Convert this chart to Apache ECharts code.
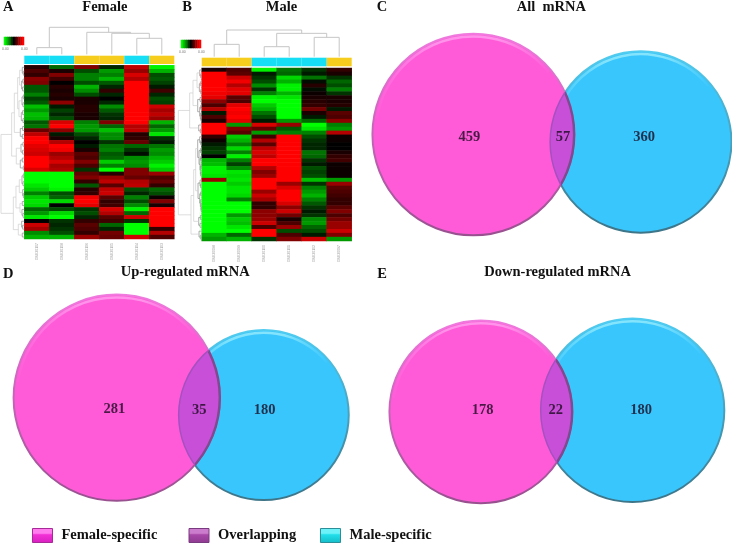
<!DOCTYPE html>
<html>
<head>
<meta charset="utf-8">
<title>mRNA heatmaps and Venn diagrams</title>
<style>
    html, body { margin: 0; padding: 0; background: #fff; }
    #chart { width: 732px; height: 543px; }
</style>
<script src="https://cdn.jsdelivr.net/npm/echarts@6/dist/echarts.min.js"></script>
</head>
<body>
<div id="chart"></div>
<script>
//---数据定义区----------------------------------
var femaleSamples = ['GSE30107', 'GSE30108', 'GSE30106', 'GSE30105', 'GSE30104', 'GSE30103'];
var maleSamples = ['GSE30098', 'GSE30099', 'GSE30100', 'GSE30101', 'GSE30102', 'GSE30097'];
var femaleGroups = ['male', 'male', 'female', 'female', 'male', 'female'];
var maleGroups = ['female', 'female', 'male', 'male', 'male', 'female'];
var keySteps = [-1, -.8, -.6, -.4, -.2, 0, .2, .4, .6, .8, 1];

// expression per row, one value per sample (-1 green .. 1 red)
var femaleRows = [
    [.15, -.4, .5, -.15, .75, -.95], [.3, .1, -.3, -.6, .6, -.7], [.2, .5, -.5, -.5, .85, -.3], [.55, .25, -.5, -.7, .7, -.35],
    [.5, 0, -.3, -.35, 1, -.25], [-.35, .15, -.7, -.15, 1, -.1], [-.35, .1, -.55, .2, 1, .25], [-.5, .15, -.3, -.15, 1, -.15],
    [-.25, .1, .1, 0, 1, -.3], [-.35, .55, .1, -.15, 1, -.25], [-.75, -.1, .15, -.55, 1, .8], [-.6, -.25, .15, -.35, 1, .65],
    [-.75, -.15, .1, -.2, 1, .75], [-.7, -.3, .1, -.15, 1, .6], [-.35, .85, -.5, .5, 1, -.7], [-.45, 1, -.6, -.4, .7, -.4],
    [.4, .55, -.6, -.75, .75, -.6], [.75, -.1, -.3, -.55, .15, -.9], [1, .1, -.15, -.55, .2, -.2], [1, .7, 0, -.2, .4, -.1],
    [.9, 1, -.1, -.45, -.4, -.45], [.85, .95, .1, -.5, -.2, -.6], [.8, .6, .35, -.35, -.05, -.55], [1, .7, .3, -.4, -.55, -.7],
    [1, .85, .5, -.8, -.6, -.8], [1, .65, .3, -.5, -.55, -.95], [.85, .7, -.2, -1, .5, -.8], [-1, -1, .4, .15, .5, .6],
    [-1, -1, .5, .6, .4, .3], [-1, -1, .2, .75, .7, .4], [-.9, -1, -.35, .35, .75, .2], [-.8, -.95, .15, .75, -.3, -.4],
    [-.5, -.3, .2, .8, -.15, -.3], [-.8, -.4, .95, .35, -.5, .05], [-.9, -.85, 1, .2, -.3, .5], [-.85, 0, .9, .25, -.55, .1],
    [-.4, -.3, -.2, .85, -.95, 1], [-.6, -.85, -.3, .7, -.4, 1], [-.9, -1, -.15, .35, .8, 1], [0, -.2, .2, .25, -.2, 1],
    [.8, -.15, .35, -.4, -1, 1], [.65, -.2, .3, -.15, -1, .2], [-.55, -.3, .2, .45, -1, .7], [-.7, -.7, .6, .4, .8, .3]
];
var maleRows = [
    [.1, .3, -.95, -.45, -.2, .2], [1, .35, -.1, -.4, -.1, .1], [1, .8, -.2, -.85, -.45, -.2], [1, .95, -.3, -.7, -.05, -.4],
    [1, .7, -.55, -.95, .15, -.3], [1, .9, -.2, -.95, -.05, -.5], [.95, .9, -.5, -.7, .05, -.2], [.9, .35, -.95, -.9, .1, .1],
    [.55, .3, -1, -1, .15, .1], [.3, .9, -.8, -1, .2, .15], [.7, 1, -.7, -1, .45, -.1], [-.1, .95, -.45, -1, .1, .35],
    [.3, 1, -.3, -1, -.1, .3], [.1, .9, -.1, -.6, -.4, .55], [1, -.6, .85, .6, -1, -.5], [1, .5, .4, -.35, -.9, -.6],
    [1, .35, -.6, -.5, -.5, .7], [.2, -.8, .25, 1, -.3, .05], [.05, -.7, .7, 1, -.2, .05], [-.1, -.5, .35, 1, -.15, 0],
    [-.2, -.85, .75, 1, -.15, 0], [-.25, -.5, .85, 1, -.45, .1], [0, -.95, .75, 1, -.4, .2], [-.7, -.5, 1, 1, -.2, .25],
    [-.75, -.25, 1, 1, -.1, .05], [-.95, -.55, .7, 1, -.3, .05], [-.95, -.9, .5, 1, -.25, .05], [-.9, -.85, .6, 1, -.3, .05],
    [.6, -.9, 1, 1, -.75, -.6], [-1, -.8, 1, .6, -.2, .6], [-1, -.9, 1, .85, -.5, .35], [-1, -.9, .6, 1, -.6, .3],
    [-1, -.85, .8, 1, -.7, .25], [-1, -.5, .65, 1, -.5, .2], [-1, -1, .2, .85, -.35, .2], [-1, -1, .2, .55, -.2, .35],
    [-1, -1, .55, .8, -.1, .5], [-1, -.6, .55, .45, -.2, .3], [-1, -.8, .6, .1, -.55, .45], [-1, -.75, .8, .3, -.6, .6],
    [-1, -.9, .3, .6, -.4, .6], [-1, -1, 1, -.3, -.3, .8], [-.7, -.4, 1, .3, -.1, .5], [-.6, -.7, -.2, .5, .8, -.6]
];

// dendrograms as nested [height, left, right], a plain number is a leaf
var femaleColTree = [81, [20, 0, 1], [66, 2, [63, 3, [48, 4, 5]]]];
var maleColTree = [80, [37, 0, 1], [70, [30, 2, 3], [58, 4, 5]]];
var femaleRowTree = [70,
    [38,
        [30,
            [20,
                [14, [6, 0, [3, 1, 2]], [8, [4, 3, 4], [5, 5, 6]]],
                [16, [7, [3, 7, 8], [4, 9, 10]], [9, [5, 11, 12], [4, 13, 14]]]
            ],
            [12, [5, 15, 16], [6, 17, 18]]
        ],
        [24, [10, [4, 19, 20], [5, 21, 22]], [12, [6, 23, 24], [3, 25, 26]]]
    ],
    [33,
        [25,
            [15, [7, [3, 27, 28], [4, 29, 30]], [5, 31, [3, 32, 33]]],
            [13, [6, 34, 35], [7, 36, [4, 37, 38]]]
        ],
        [18, [8, 39, [5, 40, 41]], [6, 42, 43]]
    ]
];
var maleRowTree = [70,
    [36,
        [26, [14, [6, 0, [3, 1, 2]], [7, [4, 3, 4], [3, 5, 6]]], [12, [5, 7, 8], [6, [3, 9, 10], [4, 11, [2, 12, 13]]]]],
        [9, 14, [4, 15, 16]]
    ],
    [32,
        [24,
            [18,
                [12, [6, 17, [3, 18, 19]], [8, [4, 20, 21], [5, [3, 22, 23], [4, [2, 24, 25], [3, 26, 27]]]]],
                [11, [5, 28, [3, 29, 30]], [6, [3, 31, 32], [4, 33, [2, 34, [2, 35, 36]]]]]
            ],
            [9, [4, 37, 38], [5, 39, 40]]
        ],
        [8, 41, [4, 42, 43]]
    ]
];

// [female-specific, overlapping, male-specific]
var allCounts = [459, 57, 360];
var upCounts = [281, 35, 180];
var downCounts = [178, 22, 180];
//----------------------------------------------

//---常量定义区----------------------------------
var SERIF = '"Liberation Serif", "Times New Roman", serif';
var GROUP_COLORS = { male: '#16dff5', female: '#f6cd1c' };
var PINK = { fill: '#ff5bd8', rimTop: '#f07ade', rimBottom: '#98508f', shine: '#ff92ea' };
var BLUE = { fill: '#38c6fd', rimTop: '#52cdf0', rimBottom: '#3d7488', shine: '#84e4fb' };

var heatLayouts = [
    { rows: femaleRows, samples: femaleSamples, groups: femaleGroups, colTree: femaleColTree, rowTree: femaleRowTree,
      left: 24.3, heatTop: 65.3, heatHeight: 173.7, barTop: 55.7, barHeight: 8.3, colTop: 27.3, colHeight: 27, rowLeft: 1, colMax: 81,
      keyLeft: 4, keyTop: 37 },
    { rows: maleRows, samples: maleSamples, groups: maleGroups, colTree: maleColTree, rowTree: maleRowTree,
      left: 201.7, heatTop: 68, heatHeight: 173, barTop: 57.7, barHeight: 8.6, colTop: 30, colHeight: 26.7, rowLeft: 178.3, colMax: 80,
      keyLeft: 181, keyTop: 40 }
];
var HEAT_WIDTH = 150;

var vennLayouts = [
    { counts: allCounts, left: 368, top: 30, width: 364, height: 208, scale: 4.44,
      female: [473.3, 134.5], male: [640.8, 142], labels: [[469.3, 137], [563, 137], [644, 137]] },
    { counts: upCounts, left: 8, top: 290, width: 344, height: 216, scale: 5.8,
      female: [116.7, 397.7], male: [263.7, 415], labels: [[114.3, 409], [199.3, 410], [264.7, 410]] },
    { counts: downCounts, left: 386, top: 314, width: 344, height: 192, scale: 6.46,
      female: [480.8, 411.8], male: [632.5, 410.2], labels: [[482.7, 410], [555.7, 410.5], [641, 410.5]] }
];

var headings = [
    { text: 'A', left: 3, top: 0 }, { text: 'Female', left: 82.3, top: 0 },
    { text: 'B', left: 182.3, top: 0 }, { text: 'Male', left: 265.7, top: 0 },
    { text: 'C', left: 376.7, top: 0 }, { text: 'All  mRNA', left: 516.7, top: 0 },
    { text: 'D', left: 3, top: 267 }, { text: 'Up-regulated mRNA', left: 120.7, top: 265 },
    { text: 'E', left: 377.3, top: 267 }, { text: 'Down-regulated mRNA', left: 484.3, top: 265 }
];
var keyLabels = [
    { text: '0.00', left: 2, top: 47 }, { text: '0.00', left: 21, top: 47 },
    { text: '0.00', left: 179, top: 50 }, { text: '0.00', left: 198, top: 50 }
];
//----------------------------------------------

//---工具方法定义区-------------------------------
function treeSegments(tree, segs) {
    if (typeof tree === 'number') {
        return { pos: tree + 0.5, h: 0 };
    }
    var a = treeSegments(tree[1], segs);
    var b = treeSegments(tree[2], segs);
    var h = tree[0];
    segs.push([a.pos, a.h, a.pos, h], [b.pos, b.h, b.pos, h], [a.pos, h, b.pos, h]);
    return { pos: (a.pos + b.pos) / 2, h: h };
}

function vertical(top, bottom) {
    return new echarts.graphic.LinearGradient(0, 0, 0, 1, [
        { offset: 0, color: top },
        { offset: 1, color: bottom }
    ]);
}

function shineStroke(color) {
    return new echarts.graphic.LinearGradient(0, 0, 1, 0, [
        { offset: 0, color: echarts.color.modifyAlpha(color, 0) },
        { offset: 0.35, color: color },
        { offset: 0.7, color: color },
        { offset: 1, color: echarts.color.modifyAlpha(color, 0) }
    ]);
}

function swatch(top, middle, bottom) {
    return new echarts.graphic.LinearGradient(0, 0, 0, 1, [
        { offset: 0, color: top },
        { offset: 0.35, color: top },
        { offset: 0.45, color: middle },
        { offset: 1, color: bottom }
    ]);
}

function circleItem(look) {
    return function (params, api) {
        var c = api.coord([api.value(0), api.value(1)]);
        var r = api.size([Math.sqrt(api.value(2)), 0])[0];
        return {
            type: 'group',
            children: [{
                type: 'circle',
                shape: { cx: c[0], cy: c[1], r: r },
                style: { fill: look.fill, stroke: vertical(look.rimTop, look.rimBottom), lineWidth: 2 }
            }, {
                type: 'arc',
                shape: { cx: c[0], cy: c[1], r: r - 2.8, startAngle: -Math.PI * 0.95, endAngle: -Math.PI * 0.22 },
                style: { fill: null, stroke: shineStroke(look.shine), lineWidth: 2.5 }
            }]
        };
    };
}

function lensItem(params, api) {
    var f = api.coord([api.value(0), api.value(1)]);
    var fr = api.size([Math.sqrt(api.value(2)), 0])[0];
    var m = api.coord([api.value(3), api.value(4)]);
    var mr = api.size([Math.sqrt(api.value(5)), 0])[0];
    var fShape = { cx: f[0], cy: f[1], r: fr };
    var mShape = { cx: m[0], cy: m[1], r: mr };
    return {
        type: 'group',
        children: [{
            type: 'circle',
            shape: fShape,
            clipPath: { type: 'circle', shape: mShape },
            style: { fill: '#c850d8', stroke: '#804a90', lineWidth: 2.5 }
        }, {
            type: 'circle',
            shape: mShape,
            clipPath: { type: 'circle', shape: fShape },
            style: { fill: null, stroke: '#a650c0', lineWidth: 1.5 }
        }]
    };
}
//----------------------------------------------

//---配置组装区----------------------------------
var grids = [], xAxes = [], yAxes = [], series = [], colouredSeries = [];

function addGrid(rect, xAxis, yAxis) {
    grids.push(rect);
    xAxis.gridIndex = grids.length - 1;
    yAxis.gridIndex = grids.length - 1;
    xAxes.push(xAxis);
    yAxes.push(yAxis);
    return grids.length - 1;
}

function segmentSeries(idx, segs, swap, colorOf, width) {
    series.push({
        type: 'custom',
        xAxisIndex: idx,
        yAxisIndex: idx,
        silent: true,
        clip: false,
        data: segs,
        renderItem: function (params, api) {
            var a = swap ? [api.value(1), api.value(0)] : [api.value(0), api.value(1)];
            var b = swap ? [api.value(3), api.value(2)] : [api.value(2), api.value(3)];
            var p = api.coord(a);
            var q = api.coord(b);
            return {
                type: 'line',
                shape: { x1: p[0], y1: p[1], x2: q[0], y2: q[1] },
                style: { stroke: colorOf(Math.max(api.value(1), api.value(3))), lineWidth: width }
            };
        }
    });
}

heatLayouts.forEach(function (h) {
    // heat matrix
    var heatIdx = addGrid(
        { left: h.left, top: h.heatTop, width: HEAT_WIDTH, height: h.heatHeight },
        { type: 'category', data: h.samples, position: 'bottom', axisLine: { show: false }, axisTick: { show: false },
          axisLabel: { rotate: 90, fontSize: 3.5, color: '#999', margin: 4, interval: 0, fontFamily: 'Liberation Sans' } },
        { type: 'category', inverse: true, data: h.rows.map(function (r, i) { return i; }), show: false }
    );
    var cells = [];
    h.rows.forEach(function (row, r) {
        row.forEach(function (v, c) { cells.push([c, r, v]); });
    });
    series.push({ type: 'heatmap', xAxisIndex: heatIdx, yAxisIndex: heatIdx, data: cells, silent: true, progressive: 0 });
    colouredSeries.push(series.length - 1);

    // colour key
    var keyIdx = addGrid(
        { left: h.keyLeft, top: h.keyTop, width: 20, height: 8 },
        { type: 'category', data: keySteps, show: false },
        { type: 'category', data: ['key'], show: false }
    );
    series.push({
        type: 'heatmap', xAxisIndex: keyIdx, yAxisIndex: keyIdx, silent: true, progressive: 0,
        data: keySteps.map(function (v, i) { return [i, 0, v]; })
    });
    colouredSeries.push(series.length - 1);

    // sample group strip
    var barIdx = addGrid(
        { left: h.left, top: h.barTop, width: HEAT_WIDTH, height: h.barHeight },
        { type: 'category', data: h.samples, show: false },
        { type: 'value', min: 0, max: 1, show: false }
    );
    series.push({
        type: 'bar', xAxisIndex: barIdx, yAxisIndex: barIdx, barWidth: '100%', silent: true,
        data: h.groups.map(function (g) { return { value: 1, itemStyle: { color: GROUP_COLORS[g] } }; })
    });

    // sample dendrogram
    var colIdx = addGrid(
        { left: h.left, top: h.colTop, width: HEAT_WIDTH, height: h.colHeight },
        { type: 'value', min: 0, max: h.samples.length, show: false },
        { type: 'value', min: 0, max: h.colMax, show: false }
    );
    var colSegs = [];
    treeSegments(h.colTree, colSegs);
    segmentSeries(colIdx, colSegs, false, function () { return '#c6c6c6'; }, 1);

    // row dendrogram
    var rowIdx = addGrid(
        { left: h.rowLeft, top: h.heatTop, width: h.left - h.rowLeft, height: h.heatHeight },
        { type: 'value', min: 0, max: 70, inverse: true, show: false },
        { type: 'value', min: 0, max: h.rows.length, inverse: true, show: false }
    );
    var rowSegs = [];
    treeSegments(h.rowTree, rowSegs);
    segmentSeries(rowIdx, rowSegs, true, function (height) { return height > 12 ? '#cfcfcf' : '#8c8c8c'; }, 0.7);
});

vennLayouts.forEach(function (v) {
    function toData(p) {
        return [(p[0] - v.left) / v.scale, (p[1] - v.top) / v.scale];
    }
    var idx = addGrid(
        { left: v.left, top: v.top, width: v.width, height: v.height },
        { type: 'value', min: 0, max: v.width / v.scale, show: false },
        { type: 'value', min: 0, max: v.height / v.scale, inverse: true, show: false }
    );
    var femaleTotal = v.counts[0] + v.counts[1];
    var maleTotal = v.counts[2] + v.counts[1];
    var f = toData(v.female);
    var m = toData(v.male);
    var base = { type: 'custom', xAxisIndex: idx, yAxisIndex: idx, silent: true, clip: false };
    series.push(echarts.util.extend({
        name: 'Male-specific', itemStyle: { color: BLUE.fill }, renderItem: circleItem(BLUE), data: [[m[0], m[1], maleTotal]]
    }, base));
    series.push(echarts.util.extend({
        name: 'Female-specific', itemStyle: { color: PINK.fill }, renderItem: circleItem(PINK), data: [[f[0], f[1], femaleTotal]]
    }, base));
    series.push(echarts.util.extend({
        name: 'Overlapping', itemStyle: { color: '#c850d8' }, renderItem: lensItem,
        data: [[f[0], f[1], femaleTotal, m[0], m[1], maleTotal]]
    }, base));
    series.push({
        type: 'scatter', xAxisIndex: idx, yAxisIndex: idx, silent: true, symbolSize: 0, z: 5,
        data: v.counts.map(function (n, i) { var p = toData(v.labels[i]); return [p[0], p[1], n]; }),
        label: {
            show: true, position: 'inside', color: '#1c0a20',
            fontFamily: SERIF, fontWeight: 'bold', fontSize: 14.5,
            formatter: function (p) { return String(p.value[2]); }
        }
    });
});

var titles = headings.map(function (t) {
    return { text: t.text, left: t.left, top: t.top, padding: 0,
        textStyle: { fontFamily: SERIF, fontWeight: 'bold', fontSize: 14.5, color: '#111' } };
}).concat(keyLabels.map(function (t) {
    return { text: t.text, left: t.left, top: t.top, padding: 0,
        textStyle: { fontFamily: 'Liberation Sans', fontWeight: 'normal', fontSize: 3.5, color: '#777' } };
}));

function legendFor(left, item) {
    return {
        left: left, top: 528, padding: 0, itemWidth: 20, itemHeight: 14, selectedMode: false, icon: 'rect',
        textStyle: { fontFamily: SERIF, fontWeight: 'bold', fontSize: 14.5, color: '#111', padding: [0, 0, 0, 4] },
        data: [item]
    };
}
//----------------------------------------------

//---初始化区------------------------------------
var chart = echarts.init(document.getElementById('chart'), null, { renderer: 'canvas' });
chart.setOption({
    animation: false,
    backgroundColor: '#ffffff',
    title: titles,
    grid: grids,
    xAxis: xAxes,
    yAxis: yAxes,
    visualMap: {
        type: 'continuous', show: false, min: -1, max: 1, seriesIndex: colouredSeries,
        inRange: { color: ['#00ff00', '#000000', '#ff0000'] }
    },
    legend: [
        legendFor(32, { name: 'Female-specific', itemStyle: { color: swatch('#ff7bee', '#f22fd6', '#d81fc0'), borderColor: '#a82a98', borderWidth: 1 } }),
        legendFor(188.5, { name: 'Overlapping', itemStyle: { color: swatch('#cc7ccc', '#a848a8', '#8e3a90'), borderColor: '#7a3a80', borderWidth: 1 } }),
        legendFor(320, { name: 'Male-specific', itemStyle: { color: swatch('#6cf2f8', '#22dfea', '#14bcc8'), borderColor: '#2a8f98', borderWidth: 1 } })
    ],
    series: series
});
//----------------------------------------------
</script>
</body>
</html>
